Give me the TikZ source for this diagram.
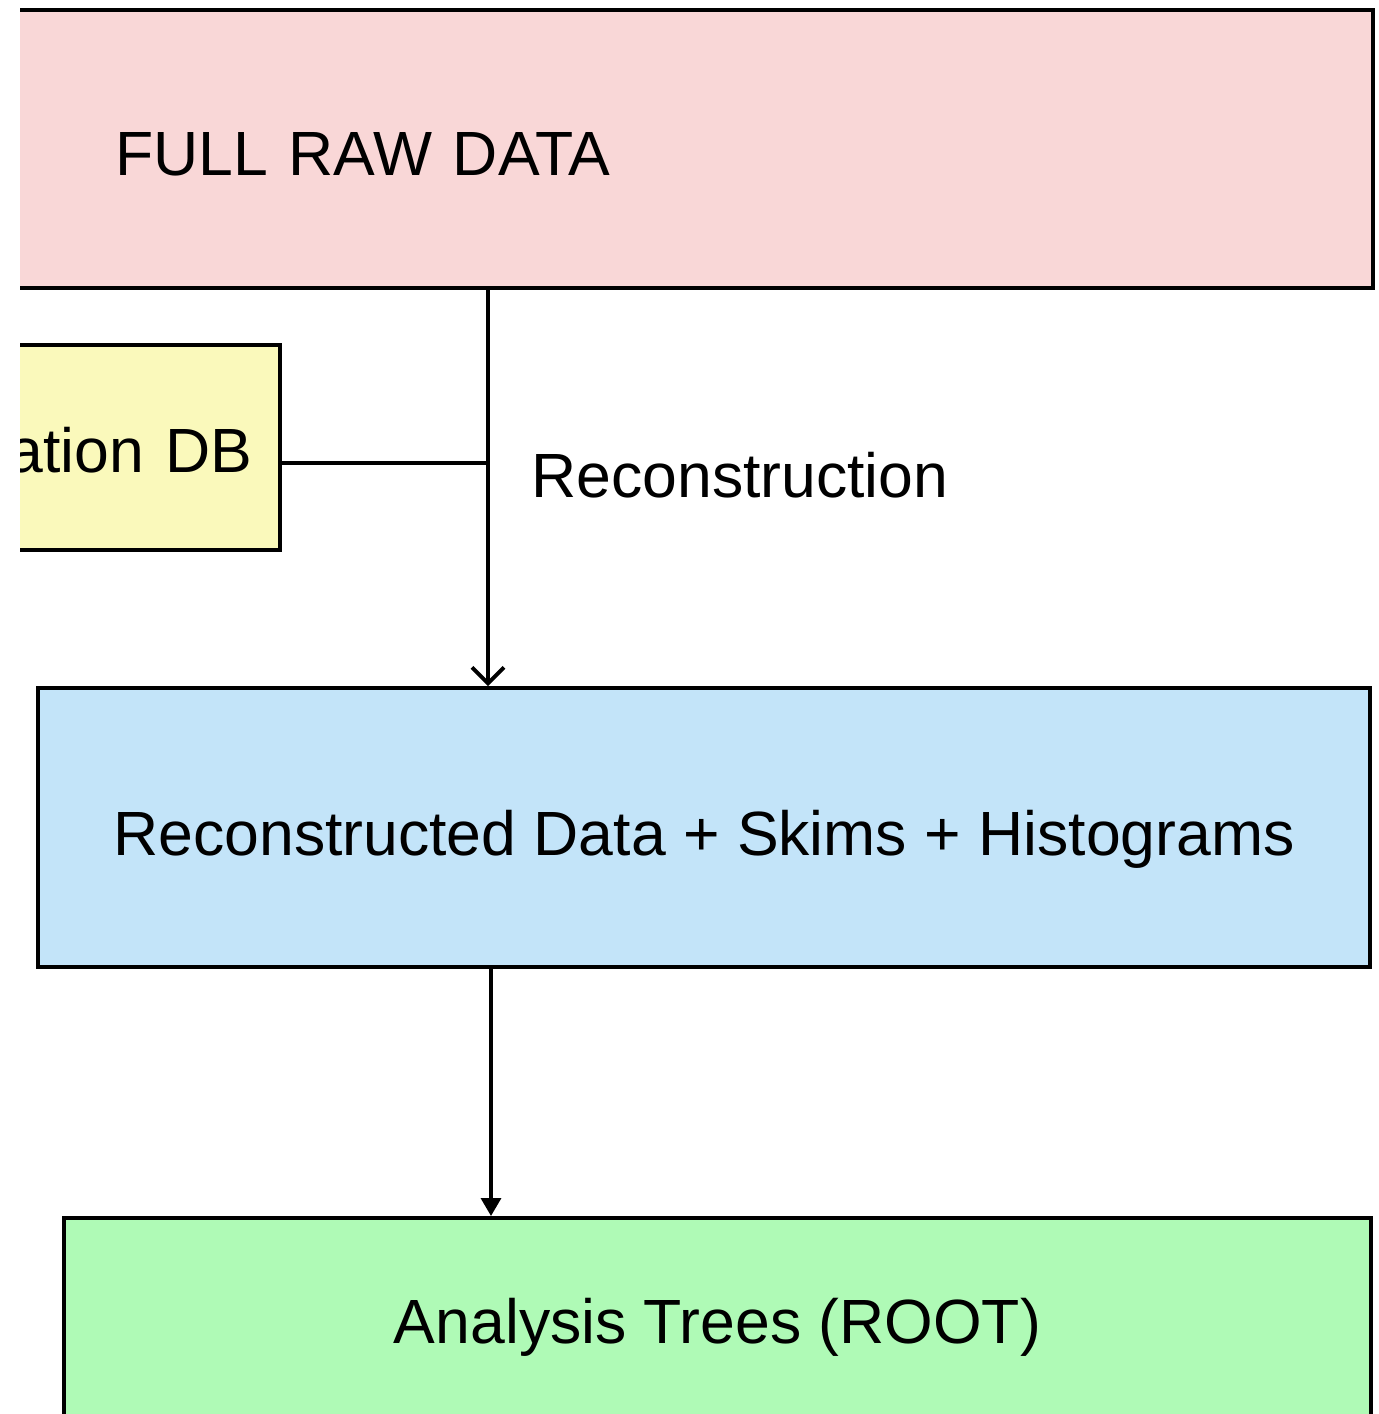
\documentclass[tikz,border=0pt]{standalone}
\usepackage{fontspec}
\setmainfont{Liberation Sans}
\usetikzlibrary{arrows.meta}
\definecolor{rawpink}{RGB}{249,215,215}
\definecolor{calyellow}{RGB}{250,249,187}
\definecolor{recblue}{RGB}{195,228,249}
\definecolor{anagreen}{RGB}{175,250,182}
\tikzset{
  boxnode/.style={draw=black, line width=2pt, rectangle, inner ysep=0pt, text depth=0pt,
    font=\fontsize{31.25pt}{36pt}\selectfont},
  conn/.style={draw=black, line width=1.7pt},
  arrV/.style={conn, -{Straight Barb[length=8pt,width=16pt,line width=1.9pt]}},
  arrT/.style={conn, -{Triangle[length=9pt,width=10pt]}},
  lbl/.style={font=\fontsize{31.25pt}{36pt}\selectfont, inner sep=0pt}
}
\begin{document}
\begin{tikzpicture}[x=0.5pt,y=-0.5pt]
\useasboundingbox (0,0) rectangle (1378,1414);
\clip (20,0) rectangle (1378,1414);
% boxes
\node[boxnode, fill=rawpink, minimum width=696.5pt, minimum height=139pt,
      text width=561.5pt, inner xsep=67.5pt, align=left, text height=26pt] (raw) at (676.5,149) {FULL RAW DATA};
\node[boxnode, fill=calyellow, minimum width=170pt, minimum height=102.5pt,
      text width=142pt, inner xsep=14pt, align=right, text height=24.5pt] (cal) at (110,447.5) {ation DB};
\node[boxnode, fill=recblue, minimum width=666pt, minimum height=139.5pt, text height=27.5pt] (rec) at (704,827.5)
      {Reconstructed Data + Skims + Histograms};
\node[boxnode, fill=anagreen, minimum width=653.5pt, minimum height=102pt, text height=23pt] (ana) at (717.5,1320)
      {Analysis Trees (ROOT)};
% connectors
\coordinate (j) at (488,463);
\coordinate (k) at (491,1000);
\draw[arrV] (raw.south -| j) -- (rec.north -| j);
\draw[conn] (cal.east |- j) -- (j);
\draw[arrT] (rec.south -| k) -- (ana.north -| k);
\node[lbl, anchor=base west] (recolbl) at (531,497) {Reconstruction};
\end{tikzpicture}
\end{document}
